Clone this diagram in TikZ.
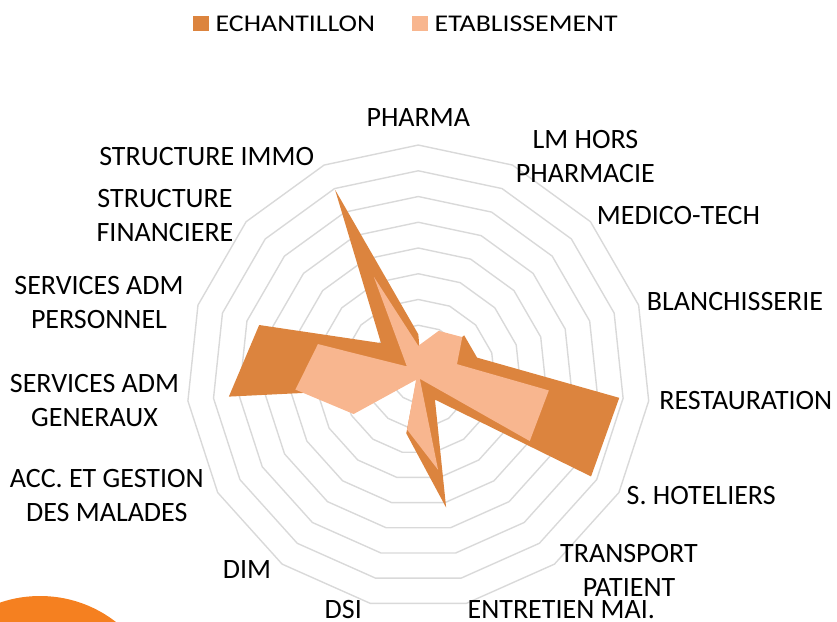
\documentclass[tikz,border=0pt]{standalone}
\usepackage{fontspec}
\setmainfont{Carlito}
\usetikzlibrary{calc}
\definecolor{echan}{RGB}{220,132,62}
\definecolor{etab}{RGB}{248,182,143}
\definecolor{gridc}{RGB}{217,217,217}
\definecolor{blob}{RGB}{245,128,32}
\begin{document}
\begin{tikzpicture}[x=1pt,y=-1pt,
  lbl/.style={font=\fontsize{28}{34.2}\selectfont, inner sep=0pt, align=center, text=black},
  leg/.style={font=\fontsize{24}{28}\selectfont, inner sep=0pt, anchor=west, text=black},
  legsq/.style={inner sep=0pt, minimum width=16pt, minimum height=15.3pt, draw=none},
  gridline/.style={draw=gridc, line width=1.4pt, line join=round}]
\useasboundingbox (0,0) rectangle (837,621);
\coordinate (C) at (418.3,376.7);
\def\unit{25.74}
% grid rings
\foreach \r in {1,...,9}{
  \draw[gridline] ($(C)+(-90:{\r*\unit})$)
    \foreach \k in {1,...,14}{ -- ($(C)+({24*\k-90}:{\r*\unit})$) } -- cycle;
}
% data points
\foreach \v [count=\k from 0] in {1.65,0.3,2.4,2.4,7.85,7.75,1.1,5.2,2.25,0.1,0.9,7.4,6.5,1.95,7.95}{
  \coordinate (d\k) at ($(C)+({24*\k-90}:{\v*\unit})$);
}
\foreach \v [count=\k from 0] in {1.2,1.95,2.3,1.58,5.1,5.0,0.1,3.7,2.1,0.15,2.9,4.8,4.1,0.6,4.25}{
  \coordinate (e\k) at ($(C)+({24*\k-90}:{\v*\unit})$);
}
\fill[echan] (d0) \foreach \k in {1,...,14}{ -- (d\k) } -- cycle;
\fill[etab] (e0) \foreach \k in {1,...,14}{ -- (e\k) } -- cycle;
% category labels
\node[lbl] (pharma) at (418.3,117.7) {PHARMA};
\node[lbl] (lmhors) at (585.4,156.6) {LM HORS\\PHARMACIE};
\node[lbl] (medico) at (678.5,215.8) {MEDICO-TECH};
\node[lbl] (blanch) at (735,301.7) {BLANCHISSERIE};
\node[lbl] (resto) at (745.8,400.5) {RESTAURATION};
\node[lbl] (shotel) at (701.2,495.3) {S. HOTELIERS};
\node[lbl] (transp) at (629,570.8) {TRANSPORT\\PATIENT};
\node[lbl] (entret) at (561.3,610) {ENTRETIEN MAI.};
\node[lbl] (dsi) at (343.3,610) {DSI};
\node[lbl] (dim) at (247,569.3) {DIM};
\node[lbl] (acc) at (106.8,495.7) {ACC. ET GESTION\\DES MALADES};
\node[lbl] (admgen) at (94.5,400.8) {SERVICES ADM\\GENERAUX};
\node[lbl] (admpers) at (99,302.3) {SERVICES ADM\\PERSONNEL};
\node[lbl] (structfin) at (165,215.7) {STRUCTURE\\FINANCIERE};
\node[lbl] (structimmo) at (206.7,156.5) {STRUCTURE IMMO};
% legend
\node[legsq, fill=echan] (legd) at (201.3,23.3) {};
\node[leg] (legdt) at (215.5,23.3) {\scalebox{1.16}[1]{ECHANTILLON}};
\node[legsq, fill=etab] (lege) at (420.3,23.3) {};
\node[leg] (leget) at (434.5,23.3) {\scalebox{1.16}[1]{ETABLISSEMENT}};
% decorative orange blob
\begin{scope}
  \clip (0,0) rectangle (837,621);
  \fill[blob] (40,720) circle[radius=124];
\end{scope}
\end{tikzpicture}
\end{document}
